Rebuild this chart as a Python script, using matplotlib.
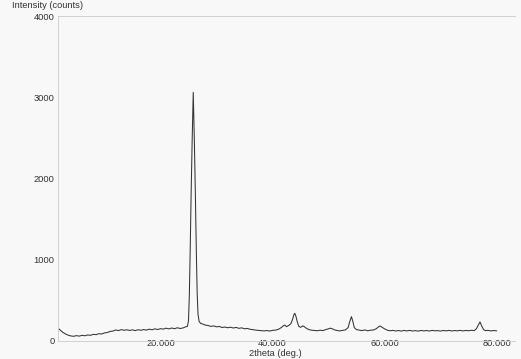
import matplotlib.pyplot as plt

# XRD scan (2theta in degrees, intensity in counts)
two_theta = [
    1.7, 2.0, 2.5, 3.0, 3.5, 4.0, 4.5, 5.0, 5.5, 6.0, 6.5, 7.0, 7.5, 8.0, 8.5,
    9.0, 9.5, 10.0, 10.5, 11.0, 11.5, 12.0, 12.5, 13.0, 13.5, 14.0, 14.5, 15.0,
    15.5, 16.0, 16.5, 17.0, 17.5, 18.0, 18.5, 19.0, 19.5, 20.0, 20.5, 21.0,
    21.5, 22.0, 22.5, 23.0, 23.5, 24.0, 24.4, 24.8, 25.0, 25.15, 25.3, 25.47,
    25.65, 25.85, 26.05, 26.23, 26.4, 26.55, 26.7, 26.9, 27.2, 27.5, 28.0,
    28.5, 29.0, 29.5, 30.0, 30.5, 31.0, 31.5, 32.0, 32.5, 33.0, 33.5, 34.0,
    34.5, 35.0, 35.5, 36.0, 36.5, 37.0, 37.5, 38.0, 38.5, 39.0, 39.5, 40.0,
    40.5, 41.0, 41.5, 42.0, 42.2, 42.5, 43.0, 43.3, 43.6, 43.85, 44.0, 44.2,
    44.45, 44.7, 45.0, 45.4, 45.7, 46.0, 46.5, 47.0, 47.5, 48.0, 48.5, 49.0,
    49.5, 50.0, 50.3, 50.7, 51.0, 51.5, 52.0, 52.5, 53.0, 53.5, 53.8, 54.1,
    54.35, 54.6, 55.0, 55.5, 56.0, 56.5, 57.0, 57.5, 58.0, 58.5, 58.9, 59.2,
    59.5, 60.0, 60.5, 61.0, 61.5, 62.0, 62.5, 63.0, 63.5, 64.0, 64.5, 65.0,
    65.5, 66.0, 66.5, 67.0, 67.5, 68.0, 68.5, 69.0, 69.5, 70.0, 70.5, 71.0,
    71.5, 72.0, 72.5, 73.0, 73.5, 74.0, 74.5, 75.0, 75.5, 76.0, 76.4, 76.7,
    77.05, 77.35, 77.7, 78.0, 78.5, 79.0, 79.5, 80.0,
]
counts = [
    160, 140, 110, 88, 72, 62, 58, 66, 60, 70, 64, 74, 70, 82, 78,
    90, 86, 100, 104, 118, 122, 136, 128, 140, 132, 138, 130, 137,
    128, 139, 132, 141, 134, 146, 138, 150, 141, 152, 146, 158,
    149, 160, 151, 163, 154, 160, 172, 180, 250, 560, 1100, 1800,
    2450, 3060, 2450, 1800, 1100, 590, 330, 240, 215, 210, 196,
    190, 180, 186, 174, 179, 166, 172, 163, 170, 160, 167, 156,
    162, 150, 155, 144, 140, 134, 131, 127, 124, 129, 122, 131,
    134, 142, 162, 190, 196, 176, 196, 215, 270, 330, 340, 300,
    230, 180, 168, 186, 175, 158, 140, 133, 130, 126, 133, 128,
    140, 150, 158, 150, 138, 130, 124, 131, 136, 165, 240, 300,
    240, 165, 140, 134, 128, 136, 126, 133, 135, 150, 172, 185,
    172, 150, 133, 126, 131, 123, 129, 122, 130, 124, 131, 123,
    128, 121, 130, 124, 129, 122, 131, 125, 128, 122, 130, 124,
    131, 123, 129, 125, 131, 124, 130, 126, 132, 128, 150, 190,
    235, 185, 140, 128, 131, 124, 129, 125,
]

x_ticks = [20, 40, 60, 80]
x_tick_labels = ["20.000", "40.000", "60.000", "80.000"]
y_ticks = [0, 1000, 2000, 3000, 4000]
y_tick_labels = ["0", "1000", "2000", "3000", "4000"]

fig = plt.figure(figsize=(5.21, 3.59), dpi=100, facecolor='#f8f8f8')
ax = fig.add_axes([58 / 521, 18 / 359, 457 / 521, 325 / 359])
ax.set_facecolor('#f8f8f8')

ax.plot(two_theta, counts, color='#333333', linewidth=0.75)

ax.set_xlim(1.7, 83.3)
ax.set_ylim(0, 4000)

ax.set_xticks(x_ticks)
ax.set_xticklabels(x_tick_labels)
ax.set_yticks(y_ticks)
ax.set_yticklabels(y_tick_labels)

txt = dict(family='Liberation Sans', color='#333333', fontsize=6.7)
ax.tick_params(axis='both', length=0, labelsize=6.7, labelcolor='#333333')
ax.tick_params(axis='x', pad=-1.2)
ax.tick_params(axis='y', pad=2.5)
for lab in ax.get_xticklabels() + ax.get_yticklabels():
    lab.set_family('Liberation Sans')

for side in ['left', 'bottom', 'top']:
    ax.spines[side].set_color('#d0d0d0')
    ax.spines[side].set_linewidth(0.7)
ax.spines['right'].set_visible(False)

fig.text(12 / 521, 1 - 6 / 359, "Intensity (counts)", ha='left', va='center', **txt)
fig.text(275 / 521, 1 - 353 / 359, "2theta (deg.)", ha='center', va='center', **txt)

fig.savefig('out.png', dpi=100, facecolor=fig.get_facecolor())
